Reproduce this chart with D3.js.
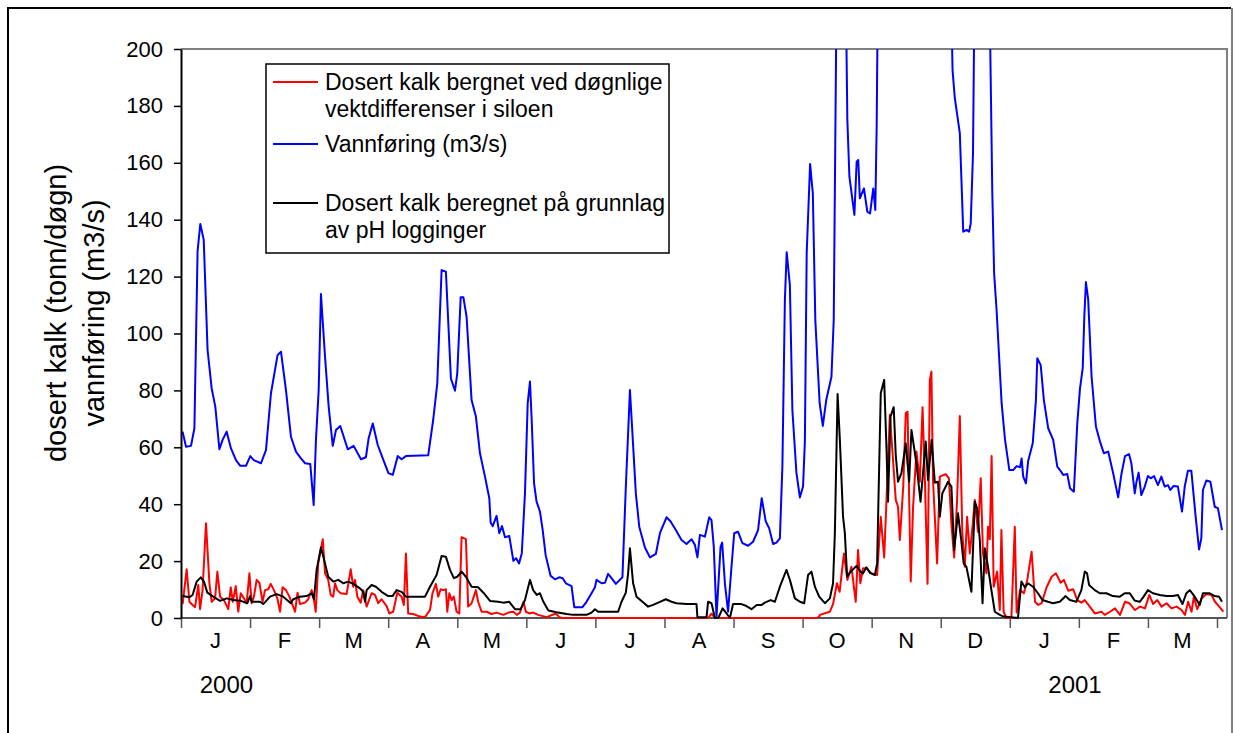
<!DOCTYPE html>
<html lang="no">
<head>
<meta charset="UTF-8">
<title>Dosert kalk og vannføring</title>
<script src="https://d3js.org/d3.v7.min.js"></script>
<style>
  body { margin: 0; background: #fff; }
  svg text { font-family: Arial, "Liberation Sans", sans-serif; fill: #000; }
</style>
</head>
<body>
<svg width="1233" height="733"></svg>
<script>
// x values are days counted from 1 January 2000
const monthLabels = ["J", "F", "M", "A", "M", "J", "J", "A", "S", "O", "N", "D", "J", "F", "M"];
const yearLabels = [["2000", 20], ["2001", 393.5]];
const yTicks = d3.range(0, 201, 20);

// Vannføring (m3/s)
const flowData = [
  [0.7,65.5],[2.2,60.2],[4.4,60.5],[5.9,66.7],[7.3,129],[8.5,138.5],[10,132.9],[11.7,94.2],[13.5,80.7],[15.1,74.3],
  [16.9,59.3],[18.3,62.6],[20.1,65.5],[22,59.6],[24.2,55.5],[26.1,53.5],[28.6,53.5],[30.5,56.9],[32,55.5],[35.2,54.4],
  [37.4,59],[39.6,79],[42.5,92.4],[44,93.6],[46.2,80.1],[48.4,63.7],[50.6,58.5],[52.8,56.1],[54.6,54.4],[56.9,54.1],
  [58.4,39.7],[59.4,62.6],[60.6,80.1],[61.6,113.9],[63.4,91.8],[65,74.3],[66.8,60.5],[68.2,66.1],[70.1,67.5],[73.4,59.3],
  [76,60.5],[79.2,55.8],[81.4,56.5],[82.6,63.2],[84.4,68.4],[86.6,60.8],[88.8,56.1],[91.3,50.9],[93.2,50.3],[95.4,56.9],
  [97.1,55.8],[99,56.9],[108.8,57.2],[111,69.6],[112.8,82.5],[114.7,122.3],[116.6,121.7],[118.8,84.2],[120.6,79.9],[121.6,86],
  [123.1,112.7],[124.3,112.7],[125.7,105.9],[127.9,76.6],[129.8,70.8],[131.6,57.9],[133.8,49.7],[135.7,42.1],[136.3,33.5],[137.2,32.3],
  [138.9,35.9],[140.1,29.8],[141.3,32.3],[142.6,28.4],[144.5,28.8],[146.3,20.1],[147.5,21],[148.8,19.2],[150,22.7],[151.4,43.8],
  [152.6,75.5],[153.6,83.1],[154.3,70.8],[155.4,47.3],[156.5,40.9],[158,37.4],[159.2,30.9],[160.5,22.1],[162.7,14.8],[164.6,13.6],
  [166.5,14.3],[168,14],[169.4,12.2],[171.9,11.2],[173.1,3.8],[176.7,3.8],[178.5,5.7],[180.7,8.7],[182.2,10.8],[182.9,13.4],
  [185.1,12.2],[186.6,12.4],[188,15.5],[189.5,14],[191.4,12],[194.3,14.3],[195.8,46.2],[197.6,80.1],[198.7,64.9],[200.2,43.8],
  [201.7,32.1],[204.2,24.8],[206.4,21.3],[209,22.5],[210.8,29.8],[213.7,35.4],[215.5,33.9],[217.8,30.9],[220.3,27.4],[222.5,26],
  [224.7,27.7],[226.2,25.7],[227.3,21.3],[228.4,29.2],[230.6,28.6],[232.5,35.4],[233.5,34.4],[234.5,25.1],[235.7,0.5],[237.5,25.1],
  [238.2,26.5],[239.4,12.2],[240.8,2.2],[242.3,18],[243.5,29.8],[245.2,30.3],[247.1,26.3],[249.6,25.4],[251.8,26.8],[254,30.9],
  [255.6,42.1],[257.4,33.9],[258.9,31.5],[260.6,26],[262.1,26.5],[263.6,28],[264.7,53.2],[265.8,111.8],[266.6,128.6],[268,117],
  [269.1,73.1],[270.9,50.9],[272.4,42.4],[273.8,46.2],[274.6,62],[275.4,128.2],[276.9,159.6],[278.1,149.3],[279.2,104.7],[281.1,75.5],
  [282.5,67.5],[284,76.6],[286.3,84.8],[287.3,104.7],[289,260],[292,260],[293.3,175],[294.2,155.1],[296.4,141.7],[297.4,160.4],
  [298.1,161],[298.8,147.5],[300.6,151],[302.1,142.8],[303.3,142.2],[304.7,151],[305.6,143.4],[306.2,172.7],[306.5,199.6],[307.5,260],
  [320,300],[338,260],[339.6,192.6],[340.6,182.7],[342.8,170.4],[344.3,135.8],[345.8,136.4],[346.9,135.8],[347.6,138.7],[348.6,163.3],
  [349.5,240],[352,280],[355.5,240],[357.1,149.3],[357.9,121.2],[359,108],[361.2,75.5],[362.7,62.6],[364.6,52],[366.3,52],
  [367.8,53.4],[369.3,53],[370,56.1],[370.7,49.7],[371.9,47.3],[372.9,55.3],[374.9,61.4],[376.3,76.6],[376.9,91.3],[378.4,88.9],
  [379.8,76.6],[381.7,66.7],[383.9,62.6],[385.7,53.2],[386.9,52],[388.3,50.3],[390.1,50.6],[391.3,45.6],[393,44.4],[394.5,68.4],
  [395.7,80.7],[396.9,87.8],[397.6,105.9],[398.3,118.1],[399.3,112],[400.8,84.8],[402.7,67.3],[404.5,62],[406.2,57.9],[408.1,58.5],
  [410.3,50.9],[412.5,42.4],[414,50.9],[415.5,56.9],[417.3,57.6],[418.3,54.4],[419.8,43.8],[420.5,47.6],[421.5,51.1],[422.7,43.2],
  [424.2,46.2],[425.6,49.9],[426.8,49.1],[428.3,49.9],[430,46.7],[431.5,49.7],[433,46.2],[434.4,46.7],[435.5,45],[436.9,46.4],
  [438.8,46.2],[440.6,37.4],[441.8,46.2],[443.2,51.8],[444.7,51.8],[446.6,35.6],[448.1,24.1],[449.1,28],[449.8,45],[451.3,48.3],
  [453.1,47.9],[455,39.1],[456.4,38.6],[458.2,30.9]
];

// Dosert kalk bergnet ved døgnlige vektdifferenser i siloen
const siloData = [
  [0.7,4.9],[2.5,17.1],[3.7,5.7],[5.1,4.6],[6.2,3.8],[7.6,11.6],[8.4,3.1],[9.5,9.8],[11,33.3],[12.5,12.2],
  [13.5,5.7],[15,6.9],[16,16.3],[17.2,7.5],[18.9,6.3],[20.8,3.1],[21.9,10.8],[22.8,5.7],[24.1,11.2],[25.2,2.2],
  [26.3,8.7],[27.7,6.9],[28.9,5.2],[30.1,15.7],[31.1,5.2],[32.1,7.5],[33.3,13.4],[34.5,12.4],[35.9,5.7],[37,9.8],
  [38.4,10.1],[39.5,12],[40.9,9.8],[42.4,6.9],[43.6,2.2],[44.7,10.8],[46.2,9.8],[47.7,7.5],[48.7,5.4],[50.2,2.2],
  [51.3,8.9],[52.4,4.9],[54.6,5.4],[56,6.6],[57.5,9.8],[58.2,8.1],[59.3,2.2],[60.4,19.2],[62.4,27.7],[63.4,15.7],
  [64.8,13.4],[65.9,8.1],[67,7.5],[67.8,12.2],[68.8,9.8],[70.3,8.7],[72.9,8.4],[74.7,17.1],[75.8,11],[76.6,13.4],
  [77.6,7.5],[79.1,5.4],[80.2,9.8],[81.7,4],[83.9,8.7],[85.4,8.1],[86.8,5.2],[88.3,6.6],[90.5,4.2],[91.7,1.6],
  [93.4,2.2],[95.2,8.9],[97.1,7.5],[98.1,4.6],[99,22.7],[100,1.6],[102.2,1.4],[105.2,0.5],[107.4,0.3],[109.6,2.8],
  [110.7,8.7],[112.2,12],[113.2,7.5],[114.3,10.1],[115.4,9.8],[116.6,10.1],[117.2,2.2],[118.1,8.7],[119.1,6.3],[120.1,7.5],
  [121.3,2.2],[122.5,1.6],[123.5,28.4],[125.4,27.7],[126.4,4],[127.9,5.2],[129.8,9.8],[130.8,5.7],[132.3,2.2],[134.5,2.2],
  [136.7,1.4],[138.9,1.9],[141.9,1.1],[144.1,1.9],[146.3,2.2],[147.8,1.1],[149.2,1.9],[150.7,5.7],[151.8,2.2],[153.3,1.6],
  [155,1.9],[157.2,1.1],[160.9,0.3],[165,1.6],[166.5,0.3],[168,0],[232,0],[233.5,1.5],[235,0],[280,0],
  [280.9,0.5],[281.2,1.1],[285.6,2.2],[287,4.9],[288.7,12.2],[289.9,9.2],[291.8,22.7],[293.3,13.4],[295.1,18],[297,5.7],
  [298,23.9],[299,12.2],[300.2,17.5],[301.7,17.5],[303.9,15.7],[306.4,15.1],[308,35.6],[309.5,21.3],[311,50.9],[312,71.4],
  [313.2,57.9],[314.6,41.5],[315.6,39.1],[316.4,27.4],[317.9,46.2],[319,72],[319.8,72.5],[321.2,12.8],[322.2,38.6],[323.7,58.5],
  [325.2,47.9],[326.4,74.1],[327.5,46.7],[328.6,12],[329.6,83.7],[330.3,86.6],[331,48.5],[332.8,19.2],[334,49.7],[336.6,50.6],
  [338,49.1],[339.1,33],[340.3,21.3],[341.6,41.5],[342.8,71],[343.9,29.8],[345,18],[346,35.6],[347.2,22.7],[348.4,32.3],
  [349.4,41.5],[350.8,30.3],[352,49.1],[353,22.7],[354.5,15.7],[355.2,32.1],[356,27.7],[356.8,56.9],[357.7,11],[359.2,16.3],
  [360.4,2.8],[361.1,30.9],[362.1,2.2],[363.3,0],[365.5,0],[367,32.1],[367.8,1.9],[369.3,9.8],[371,8.7],[372.5,13.4],
  [374.4,23.3],[375.9,5.7],[377.3,4.6],[378.8,5.2],[381,10.8],[383.2,14.5],[385.1,15.7],[387.2,12.4],[388.6,13.4],[390.5,9.6],
  [392.7,10.1],[394.5,6.3],[396.3,5.4],[397.8,6.3],[400,4],[402.2,1.6],[405.1,2.2],[406.6,1.1],[408.9,2.2],[411.1,3.4],
  [413.3,1.1],[415.5,5.7],[417.4,5.2],[419.9,2.8],[422.1,4],[424.3,3.4],[426.2,8.1],[427.9,4.9],[429.7,6.3],[431.6,4],
  [433.8,5.2],[436,3.4],[438.2,4],[440.4,2.8],[441.9,1.1],[443.3,5.7],[444.8,2.2],[445.8,7.5],[447.3,3.1],[449.2,6.9],
  [451.4,8.4],[453.6,8.1],[455.1,5.7],[457,4],[458.8,2.2]
];

// Dosert kalk beregnet på grunnlag av pH logginger
const phData = [
  [0.7,7.7],[3.7,7.3],[5.1,8.1],[6.9,12.8],[8.7,14.3],[10.1,12.8],[11.6,8.9],[14.2,7.5],[17.2,6],[20.1,6.9],
  [23,6.3],[26,6.1],[29.2,5.2],[30.4,7.7],[31.1,5.7],[34.8,5.7],[36.2,4.9],[39.2,7.5],[42.1,8.4],[45,7.5],
  [48.3,5.2],[49.4,6.6],[52.4,7.5],[55.3,7.7],[57.5,8.7],[58.5,6.6],[59.7,16.9],[61.6,24.8],[63.4,19.2],[64.8,14.5],
  [67,12.8],[69.2,13.4],[71.4,12.2],[73.6,12.8],[75.8,12],[78.8,10.4],[80.2,9.2],[81,5.7],[81.7,9.8],[83.9,11.6],
  [85.8,11],[88.3,9.2],[91.2,7.7],[93.1,7.7],[94.9,9.8],[97.1,9.2],[99,7.5],[102.2,7.5],[107.4,7.5],[109.6,11],
  [112.5,15.1],[114.7,21.8],[116.6,21.5],[118.4,16.9],[120.1,14],[121.6,14.5],[123.5,16.3],[125.4,14.5],[127.9,11],[130.8,10.8],
  [133.3,8.7],[136,6],[139.6,5.7],[141.9,5.4],[144.5,5.7],[147,3.1],[149.5,3.1],[151.4,6.3],[153.6,13.4],[155,9.8],
  [156.6,8.1],[158,8.7],[159.5,5.7],[161.7,2.6],[165.3,2],[169.7,1.4],[172.6,1.1],[178.5,1.1],[180.7,1.9],[182.2,3.1],
  [183.6,2.2],[192.4,2.2],[193.9,5.7],[195.8,8.9],[196.8,15.7],[197.6,24.5],[199,12.2],[200.5,7.5],[203.1,5.7],[205.6,4],
  [207.8,4.6],[210.8,5.7],[213.4,6.6],[215.9,5.7],[218.1,5.2],[222.5,4.9],[226.9,4.9],[227.3,0.3],[231.3,0.3],[232,5.7],
  [233.5,5.2],[235,0],[236.5,0],[238.4,3.4],[240.1,1.6],[241.6,0],[243,4.9],[246.7,4.9],[248.9,4.2],[251.1,3.1],
  [253.4,4.6],[255.6,4.6],[257,5.4],[259.5,6.3],[261.4,5.7],[263.6,11],[266.5,16.9],[268,13.4],[270.2,6.9],[272.4,5.7],
  [274.3,5.2],[276,15.1],[277.5,16.3],[279,11],[280.9,7.5],[283.4,5.2],[285.6,6.9],[287,12.2],[287.8,29.8],[289,78.7],
  [290,62.6],[291.4,35.6],[292.2,29.8],[293.2,14.5],[294.4,15.9],[295.8,17.1],[297.3,18.3],[299.1,16.3],[300.2,15.7],[301.7,17.8],
  [303.2,15.9],[305.4,15.1],[306.4,19.2],[307.3,53.2],[308,79],[309.5,83.7],[310.5,60.2],[311.2,40.9],[312.3,70.8],[313.7,74.1],
  [314.6,57.3],[315.6,47.9],[317.1,50.9],[319,61.4],[320.5,47.9],[321.5,66.1],[323.7,54.4],[325.5,40.9],[326.6,50.9],[327.8,62],
  [328.8,48.5],[330.4,62.6],[331.8,47.6],[333.2,47.9],[334,35.6],[335.1,43.8],[336.6,46.2],[337.6,47.9],[339.1,46.2],[340.3,23.9],
  [342,36.8],[343.5,26.8],[344.5,19.2],[345.7,18],[347.9,9.2],[349.4,40.9],[350.4,38.6],[351.6,27.4],[352.8,5.2],[353.8,24.5],
  [355.2,18],[356.7,9.8],[358.2,2.2],[360.4,1.1],[362.1,0.5],[368.4,0],[369.9,12.8],[371.4,10.8],[372.8,12.2],[375,11],
  [377.2,8.7],[379.2,6.3],[381.6,5.7],[383.8,5.2],[386.8,5.7],[389.4,7.7],[391.2,6.3],[394.1,5.7],[396.3,9.8],[397.8,16.3],
  [398.8,15.7],[399.7,11.6],[402.2,9.8],[404.4,8.7],[407.3,8.7],[410.2,7.7],[413.2,7.5],[415.4,8.7],[417.6,8.7],[419.8,6.1],
  [422,5.7],[423.7,7.5],[425.6,9.8],[427.8,8.7],[430.8,8.1],[433.7,7.7],[436.6,7.7],[438.8,8.1],[440.8,4.9],[442.5,8.7],
  [444,9.8],[446.2,7.5],[448.4,4.6],[449.8,8.7],[452.8,8.7],[455,7.7],[456.9,7.5],[458.2,5.7]
];

const series = [
  { data: siloData, color: "#ff0000", label: ["Dosert kalk bergnet ved døgnlige", "vektdifferenser i siloen"] },
  { data: flowData, color: "#0000ff", label: ["Vannføring (m3/s)"] },
  { data: phData, color: "#000000", label: ["Dosert kalk beregnet på grunnlag", "av pH logginger"] }
];

const plotLeft = 181, plotRight = 1227, plotTop = 49, plotBottom = 618;
const daySpan = 456; // Jan 2000 .. Mar 2001
const svg = d3.select("svg");

const x = d3.scaleLinear().domain([0, daySpan]).range([plotLeft, 1217]);
const y = d3.scaleLinear().domain([0, 200]).range([plotBottom, plotTop]);

// outer chart frame
svg.append("path").attr("d", "M8,740V8H1231")
  .attr("fill", "none").attr("stroke", "#000").attr("stroke-width", 2);
svg.append("line").attr("x1", 1232).attr("x2", 1232).attr("y1", 8).attr("y2", 740)
  .attr("stroke", "#808080").attr("stroke-width", 2);

// plot area border (top and right)
svg.append("path").attr("d", `M${plotLeft},${plotTop}H${plotRight}V${plotBottom}`)
  .attr("fill", "none").attr("stroke", "#808080").attr("stroke-width", 2);

// x axis: month ticks equally spaced (drawn before the lines so zero values show on top)
const monthStep = daySpan / monthLabels.length;
const monthTicks = d3.range(monthLabels.length + 1).map(i => i * monthStep);
const xAxis = svg.append("g").attr("transform", `translate(0,${plotBottom})`)
  .call(d3.axisBottom(x).tickValues(monthTicks).tickSize(10).tickFormat("").tickSizeOuter(0));
xAxis.select(".domain").remove();
xAxis.selectAll(".tick line").attr("stroke", "#555").attr("stroke-width", 1.5);
svg.append("line").attr("x1", plotLeft).attr("x2", plotRight).attr("y1", plotBottom).attr("y2", plotBottom)
  .attr("stroke", "#555").attr("stroke-width", 2);

svg.append("g").selectAll("text").data(monthLabels).enter().append("text")
  .attr("x", (d, i) => x((i + 0.5) * monthStep))
  .attr("y", plotBottom + 30)
  .attr("text-anchor", "middle")
  .attr("font-size", 22)
  .text(d => d);

svg.append("g").selectAll("text").data(yearLabels).enter().append("text")
  .attr("x", d => x(d[1]))
  .attr("y", plotBottom + 75)
  .attr("text-anchor", "middle")
  .attr("font-size", 24)
  .text(d => d[0]);

svg.append("clipPath").attr("id", "plot")
  .append("rect").attr("x", plotLeft).attr("y", plotTop)
  .attr("width", plotRight - plotLeft).attr("height", plotBottom - plotTop + 2);

const line = d3.line().x(d => x(d[0])).y(d => y(d[1]));
svg.append("g").attr("clip-path", "url(#plot)")
  .selectAll("path").data(series).enter().append("path")
  .attr("d", d => line(d.data))
  .attr("fill", "none")
  .attr("stroke", d => d.color)
  .attr("stroke-width", 2)
  .attr("stroke-linejoin", "round");

// y axis
const yAxis = svg.append("g").attr("transform", `translate(${plotLeft},0)`)
  .call(d3.axisLeft(y).tickValues(yTicks).tickSize(7).tickPadding(11).tickSizeOuter(0));
yAxis.select(".domain").attr("stroke", "#000").attr("stroke-width", 2);
yAxis.selectAll(".tick line").attr("stroke", "#000").attr("stroke-width", 1.5);
yAxis.selectAll(".tick text").attr("font-size", 22).attr("font-family", "Arial, 'Liberation Sans', sans-serif");

// y axis title
const yTitle = svg.append("text")
  .attr("transform", "translate(0,313) rotate(-90)")
  .attr("text-anchor", "middle")
  .attr("font-size", 29);
yTitle.append("tspan").attr("x", 0).attr("y", 66).text("dosert kalk (tonn/døgn)");
yTitle.append("tspan").attr("x", 0).attr("y", 104).text("vannføring (m3/s)");

// legend
const legend = svg.append("g").attr("transform", "translate(266,64)");
legend.append("rect").attr("width", 403).attr("height", 189)
  .attr("fill", "#fff").attr("stroke", "#000").attr("stroke-width", 1.5);
const rowY = [18, 80, 139];
const item = legend.selectAll("g.item").data(series).enter().append("g")
  .attr("class", "item")
  .attr("transform", (d, i) => `translate(0,${rowY[i]})`);
item.append("line").attr("x1", 7).attr("x2", 52)
  .attr("stroke", d => d.color).attr("stroke-width", 2);
item.append("text")
  .attr("x", 59)
  .attr("font-size", 23)
  .selectAll("tspan").data(d => d.label).enter().append("tspan")
  .attr("x", 59)
  .attr("y", (d, i) => 8 + i * 27)
  .text(d => d);
</script>
</body>
</html>
